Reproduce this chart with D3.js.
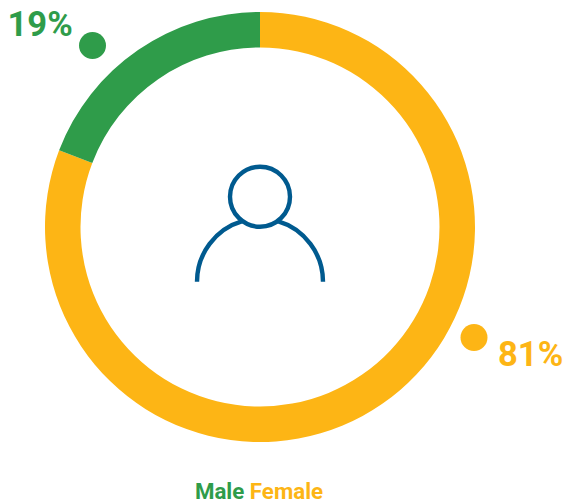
<!DOCTYPE html>
<html><head><meta charset="utf-8">
<script src="https://cdn.jsdelivr.net/npm/d3@7/dist/d3.min.js"></script>
<style>html,body{margin:0;padding:0;background:#fff}svg{display:block}text{font-family:Roboto,sans-serif;font-weight:700}</style>
</head><body><svg id="c" width="565" height="500"></svg>
<script>
const categories = ["Female", "Male"];
const values = [80.8, 19.2];
const labels = ["81%", "19%"];
const colors = ["#FDB515", "#2F9C4A"];
const iconColor = "#005A8F";

const svg = d3.select("#c");
const cx = 260, cy = 227;
const color = d3.scaleOrdinal().domain(categories).range(colors);
const pie = d3.pie().sort(null).value(d => d.v);
const arc = d3.arc().innerRadius(179.5).outerRadius(215);
const data = categories.map((c, i) => ({c, v: values[i], l: labels[i]}));
const g = svg.append("g").attr("transform", `translate(${cx},${cy})`);
g.selectAll("path").data(pie(data)).join("path").attr("d", arc).attr("fill", d => color(d.data.c));

// person icon
const icon = svg.append("g").attr("fill", "none").attr("stroke", iconColor).attr("stroke-width", 4.4);
icon.append("circle").attr("cx", cx).attr("cy", 196.7).attr("r", 30);
const bx = cx, by = 281.7, br = 63;
const a = Math.atan2(17.5, 60);
const bodyL = d3.path(); bodyL.arc(bx, by, br, Math.PI, 1.5 * Math.PI - a);
const bodyR = d3.path(); bodyR.arc(bx, by, br, 1.5 * Math.PI + a, 2 * Math.PI);
icon.append("path").attr("d", bodyL.toString());
icon.append("path").attr("d", bodyR.toString());

// callouts
svg.append("circle").attr("cx", 92.5).attr("cy", 45.5).attr("r", 13.5).attr("fill", color("Male"));
svg.append("circle").attr("cx", 474).attr("cy", 337.5).attr("r", 13.5).attr("fill", color("Female"));
svg.append("text").attr("x", 7.5).attr("y", 36).attr("font-size", 34.6).attr("fill", color("Male")).text(labels[1]);
svg.append("text").attr("x", 498).attr("y", 365.5).attr("font-size", 34.6).attr("fill", color("Female")).text(labels[0]);

// legend
const leg = svg.append("text").attr("x", 259).attr("y", 499).attr("text-anchor", "middle").attr("font-size", 22.3);
leg.append("tspan").attr("fill", color("Male")).text(categories[1]);
leg.append("tspan").attr("fill", color("Female")).text(" " + categories[0]);
</script></body></html>
